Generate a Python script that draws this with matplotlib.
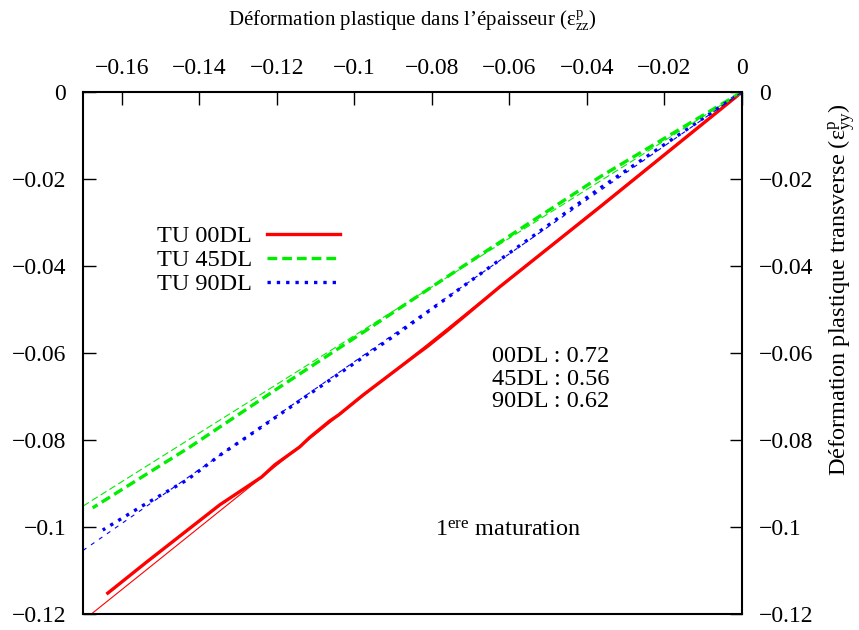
import matplotlib
matplotlib.use('Agg')
import matplotlib.pyplot as plt
from matplotlib.ticker import FuncFormatter, MultipleLocator

plt.rcParams['font.family'] = ['Liberation Serif', 'DejaVu Serif']
plt.rcParams['mathtext.fontset'] = 'custom'
plt.rcParams['mathtext.rm'] = 'Liberation Serif'
plt.rcParams['mathtext.it'] = 'Liberation Serif:italic'
plt.rcParams['lines.scale_dashes'] = False

# measured data (eps_zz, eps_yy)
x00 = [0, -0.0366, -0.0625, -0.0761, -0.0813, -0.0839, -0.0978, -0.1040, -0.1063,
       -0.1115, -0.1141, -0.1205, -0.1239, -0.1347, -0.1535, -0.1636]
y00 = [0, -0.0264, -0.0448, -0.0549, -0.0586, -0.0603, -0.0697, -0.0742, -0.0756,
       -0.0794, -0.0816, -0.0857, -0.0885, -0.0949, -0.1080, -0.1152]

x45 = [0, -0.0366, -0.0710, -0.0968, -0.1192, -0.1424, -0.1675]
y45 = [0, -0.0195, -0.0395, -0.0547, -0.0678, -0.0816, -0.0956]

x90 = [0, -0.0366, -0.0625, -0.0883, -0.1089, -0.1277, -0.1339, -0.1432, -0.1548, -0.1649]
y90 = [0, -0.0221, -0.0386, -0.0552, -0.0678, -0.0793, -0.0830, -0.0892, -0.0952, -0.1007]

# slopes of linear fits through the origin
fit_x = [-0.17, 0]
slope00, slope45, slope90 = 0.715, 0.56, 0.62
labels_r = ['00DL : 0.72', '45DL : 0.56', '90DL : 0.62']

fig = plt.figure(figsize=(8.59, 6.30), dpi=100)
ax = fig.add_axes([0.0966, 0.0254, 0.7672, 0.8286])

ax.plot(x00, y00, color='#ff0000', lw=2.4, label='TU 00DL')
ax.plot(x45, y45, color='#00ee00', lw=2.4, dashes=(7, 3.6), label='TU 45DL')
ax.plot(x90, y90, color='#0000ff', lw=2.4, dashes=(2.4, 4.3), dash_capstyle='butt',
        label='TU 90DL')

ax.plot(fit_x, [slope00 * v for v in fit_x], color='#ff0000', lw=0.8)
ax.plot(fit_x, [slope45 * v for v in fit_x], color='#00ee00', lw=0.8, dashes=(5, 2.5))
ax.plot(fit_x, [slope90 * v for v in fit_x], color='#0000ff', lw=0.8, dashes=(3, 4))

ax.set_xlim(-0.17, 0)
ax.set_ylim(-0.12, 0)
ax.xaxis.set_major_locator(MultipleLocator(0.02))
ax.yaxis.set_major_locator(MultipleLocator(0.02))
fmt = FuncFormatter(lambda v, p: ('%g' % (round(v, 4) + 0.0)).replace('-', '\u2212'))
ax.xaxis.set_major_formatter(fmt)
ax.yaxis.set_major_formatter(fmt)

ax.tick_params(direction='in', length=9, width=1, labelsize=17, pad=12,
               left=True, right=True, top=True, bottom=False,
               labelleft=True, labelright=True, labeltop=True, labelbottom=False)
ax.tick_params(axis='x', pad=9)
for s in ax.spines.values():
    s.set_linewidth(1.5)

ax.xaxis.set_label_position('top')
ax.set_xlabel('Déformation plastique dans l\u2019épaisseur '
              '($\\mathrm{ε}^{\\mathrm{p}}_{\\mathrm{zz}}$)', fontsize=15)
ax.xaxis.set_label_coords(0.5, 1.126)
ax.yaxis.set_label_position('right')
ax.set_ylabel('Déformation plastique transverse '
              '($\\mathrm{ε}^{\\mathrm{p}}_{\\mathrm{yy}}$)', fontsize=17.5)
ax.yaxis.set_label_coords(1.127, 0.621)

ax.legend(loc='center', bbox_to_anchor=(0.289, 0.587), bbox_transform=fig.transFigure,
          markerfirst=False, frameon=False, fontsize=17.5, handlelength=3.0,
          handletextpad=0.6, labelspacing=0.08)

ax.text(0.621, 0.45, '\n'.join(labels_r), transform=ax.transAxes, fontsize=17.5,
        ha='left', va='center', linespacing=1.1)
ax.text(0.534, 0.16, '1$^{\\mathrm{ere}}$ maturation', transform=ax.transAxes,
        fontsize=17.5, ha='left', va='center')

fig.savefig('out.png', dpi=100)
